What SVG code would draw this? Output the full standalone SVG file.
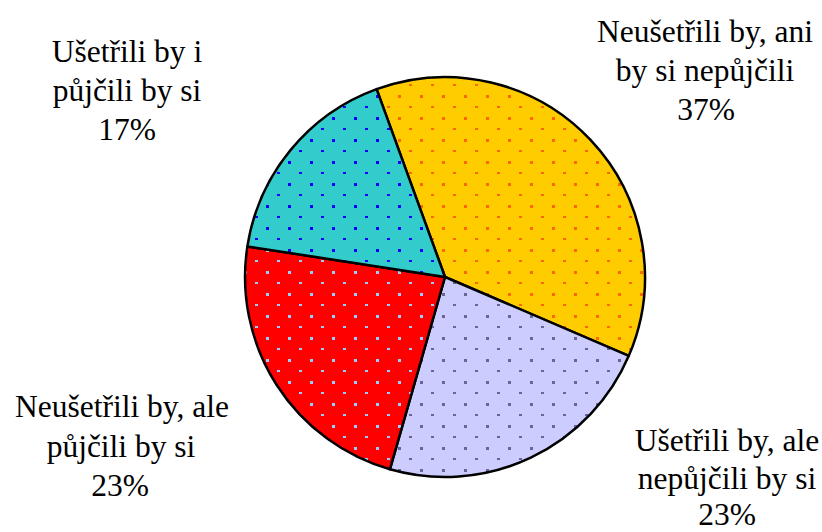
<svg xmlns="http://www.w3.org/2000/svg" width="822" height="532" viewBox="0 0 822 532">
<style>
.lbl{font-family:'Liberation Serif','Times New Roman',serif;font-size:31.5px;fill:#000;text-anchor:middle}
.slice{stroke:#000;stroke-width:2.5;stroke-linejoin:round}
</style>
<defs>
<pattern id="pY" patternUnits="userSpaceOnUse" x="2" y="7" width="22" height="22">
<rect width="22" height="22" fill="#FFCC00"/><rect width="3" height="3" fill="#FF6600"/><rect x="11" y="11" width="3" height="2" fill="#FF6600"/>
</pattern>
<pattern id="pL" patternUnits="userSpaceOnUse" x="2" y="7" width="22" height="22">
<rect width="22" height="22" fill="#CCCCFF"/><rect width="3" height="3" fill="#666699"/><rect x="11" y="11" width="3" height="2" fill="#666699"/>
</pattern>
<pattern id="pR" patternUnits="userSpaceOnUse" x="2" y="7" width="22" height="22">
<rect width="22" height="22" fill="#FF0000"/><rect width="3" height="3" fill="#99CCFF"/><rect x="11" y="11" width="3" height="2" fill="#99CCFF"/>
</pattern>
<pattern id="pC" patternUnits="userSpaceOnUse" x="2" y="7" width="22" height="22">
<rect width="22" height="22" fill="#33CCCC"/><rect width="3" height="3" fill="#0000FF"/><rect x="11" y="11" width="3" height="2" fill="#0000FF"/>
</pattern>
</defs>
<rect width="822" height="532" fill="#fff"/>
<g id="pie">
<g id="slice-neusetrili-ani"><path class="slice" fill="url(#pY)" d="M445,277 L376.6,89.1 A200,200 0 0 1 628.8,355.8 Z"/></g>
<g id="slice-usetrili-ale"><path class="slice" fill="url(#pL)" d="M445,277 L628.8,355.8 A200,200 0 0 1 389.9,469.3 Z"/></g>
<g id="slice-neusetrili-ale"><path class="slice" fill="url(#pR)" d="M445,277 L389.9,469.3 A200,200 0 0 1 247.4,246.4 Z"/></g>
<g id="slice-usetrili-i"><path class="slice" fill="url(#pC)" d="M445,277 L247.4,246.4 A200,200 0 0 1 376.6,89.1 Z"/></g>
</g>
<g id="connectors"></g>
<g id="label-neusetrili-ani">
<text class="lbl" x="705" y="42">Neušetřili by, ani</text>
<text class="lbl" x="705" y="81">by si nepůjčili</text>
<text class="lbl" x="706" y="120">37%</text>
</g>
<g id="label-usetrili-i">
<text class="lbl" x="127" y="62">Ušetřili by i</text>
<text class="lbl" x="127" y="101">půjčili by si</text>
<text class="lbl" x="127" y="140">17%</text>
</g>
<g id="label-neusetrili-ale">
<text class="lbl" x="122" y="417">Neušetřili by, ale</text>
<text class="lbl" x="121" y="457">půjčili by si</text>
<text class="lbl" x="120" y="496">23%</text>
</g>
<g id="label-usetrili-ale">
<text class="lbl" x="727" y="451">Ušetřili by, ale</text>
<text class="lbl" x="727" y="489">nepůjčili by si</text>
<text class="lbl" x="727" y="525">23%</text>
</g>
</svg>
